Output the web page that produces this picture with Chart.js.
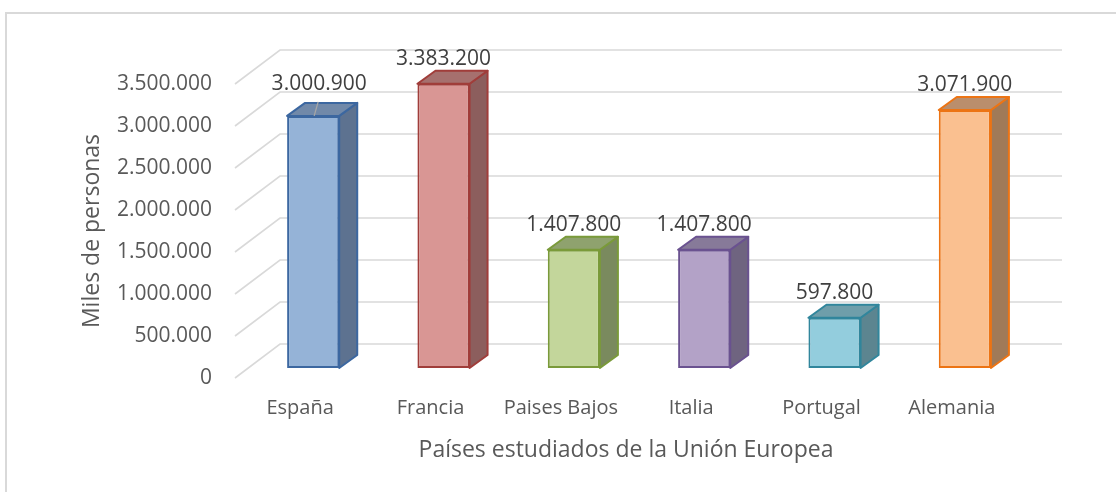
<!DOCTYPE html>
<html>
<head>
<meta charset="utf-8">
<script src="https://cdn.jsdelivr.net/npm/chart.js@4/dist/chart.umd.min.js"></script>
<style>
  html, body { margin: 0; padding: 0; background: #ffffff; }
  #wrap { width: 1116px; height: 492px; }
</style>
</head>
<body>
<div id="wrap"><canvas id="c" width="1116" height="492"></canvas></div>
<script>
// ---- data ----
const categories = ['España', 'Francia', 'Paises Bajos', 'Italia', 'Portugal', 'Alemania'];
const values = [3000900, 3383200, 1407800, 1407800, 597800, 3071900];
const yTickValues = [0, 500000, 1000000, 1500000, 2000000, 2500000, 3000000, 3500000];
const yTickLabels = ['0', '500.000', '1.000.000', '1.500.000', '2.000.000', '2.500.000', '3.000.000', '3.500.000'];
const yTitle = 'Miles de personas';
const xTitle = 'Países estudiados de la Unión Europea';

// ---- styles ----
const frontColors  = ['#95B3D7', '#D99694', '#C3D69B', '#B3A2C7', '#93CDDD', '#FAC090'];
const sideColors   = ['#5D7290', '#8C5E5D', '#7A8A5E', '#6F6480', '#5C8590', '#A07A58'];
const topColors    = ['#7189A9', '#A6706E', '#8FA26E', '#877A99', '#6F9EAA', '#BA8E6C'];
const borderColors = ['#3C67A0', '#A03D3A', '#7A9A3A', '#6A5290', '#31869C', '#EC7414'];
const textColor = '#595959';
const gridColor = '#D9D9D9';
const FONT = '"Open Sans", "DejaVu Sans", sans-serif';

function fmt(v) {
  return String(Math.round(v)).replace(/\B(?=(\d{3})+(?!\d))/g, '.');
}

const WALL = { dx: 45, dy: -34 };   // depth of the floor / side wall
const SHIFT = { dx: 13, dy: -10 };  // bar front face offset into depth
const DEPTH = { dx: 18, dy: -13 };  // bar depth

const threeD = {
  id: 'threeD',
  beforeDraw(chart) {
    const ctx = chart.ctx;
    ctx.save();
    ctx.strokeStyle = gridColor;
    ctx.lineWidth = 2;
    ctx.beginPath();
    ctx.moveTo(6, 492);
    ctx.lineTo(6, 13);
    ctx.lineTo(1116, 13);
    ctx.stroke();
    ctx.restore();
  },
  beforeDatasetsDraw(chart) {
    const ctx = chart.ctx;
    const ys = chart.scales.y;
    const area = chart.chartArea;
    ctx.save();
    ctx.strokeStyle = gridColor;
    ctx.lineWidth = 1.6;
    yTickValues.forEach(v => {
      const y = ys.getPixelForValue(v);
      ctx.beginPath();
      ctx.moveTo(area.left, y);
      ctx.lineTo(area.left + WALL.dx, y + WALL.dy);
      ctx.lineTo(area.right + WALL.dx, y + WALL.dy);
      ctx.stroke();
    });
    // sides and tops of the bars
    const meta = chart.getDatasetMeta(0);
    ctx.lineWidth = 2;
    ctx.lineJoin = 'round';
    meta.data.forEach((bar, i) => {
      const p = bar.getProps(['x', 'y', 'base', 'width'], true);
      const x1 = p.x - p.width / 2 + SHIFT.dx;
      const x2 = p.x + p.width / 2 + SHIFT.dx;
      const yt = p.y + SHIFT.dy;
      const yb = p.base + SHIFT.dy;
      ctx.strokeStyle = borderColors[i];
      // side
      ctx.fillStyle = sideColors[i];
      ctx.beginPath();
      ctx.moveTo(x2, yt);
      ctx.lineTo(x2 + DEPTH.dx, yt + DEPTH.dy);
      ctx.lineTo(x2 + DEPTH.dx, yb + DEPTH.dy);
      ctx.lineTo(x2, yb);
      ctx.closePath();
      ctx.fill();
      ctx.stroke();
      // top
      ctx.fillStyle = topColors[i];
      ctx.beginPath();
      ctx.moveTo(x1, yt);
      ctx.lineTo(x1 + DEPTH.dx, yt + DEPTH.dy);
      ctx.lineTo(x2 + DEPTH.dx, yt + DEPTH.dy);
      ctx.lineTo(x2, yt);
      ctx.closePath();
      ctx.fill();
      ctx.stroke();
    });
    ctx.restore();
    ctx.save();
    ctx.translate(SHIFT.dx, SHIFT.dy);
  },
  afterDatasetsDraw(chart) {
    const ctx = chart.ctx;
    ctx.restore();
    const meta = chart.getDatasetMeta(0);
    ctx.save();
    ctx.font = '21px ' + FONT;
    ctx.fillStyle = '#404040';
    ctx.textAlign = 'center';
    ctx.textBaseline = 'middle';
    meta.data.forEach((bar, i) => {
      const p = bar.getProps(['x', 'y'], true);
      let cx = p.x + SHIFT.dx;
      const yt = p.y + SHIFT.dy;
      let ly = yt - 25;
      if (i === 0) {
        ly = yt - 32;
        ctx.save();
        ctx.strokeStyle = '#A6A6A6';
        ctx.lineWidth = 1.3;
        ctx.beginPath();
        ctx.moveTo(cx + 5, ly + 18);
        ctx.lineTo(cx + 1, yt);
        ctx.stroke();
        ctx.restore();
        cx += 6;
      }
      ctx.fillText(fmt(values[i]), cx, ly);
    });
    ctx.restore();
  }
};

new Chart(document.getElementById('c'), {
  type: 'bar',
  data: {
    labels: categories,
    datasets: [{
      data: values,
      backgroundColor: frontColors,
      borderColor: borderColors,
      borderWidth: 2,
      borderSkipped: false,
      categoryPercentage: 1,
      barPercentage: 0.4,
      clip: false
    }]
  },
  options: {
    responsive: false,
    animation: false,
    devicePixelRatio: 1,
    layout: { padding: { left: 0, top: 84, right: 99, bottom: 0 } },
    plugins: { legend: { display: false }, tooltip: { enabled: false } },
    scales: {
      x: {
        grid: { display: false, drawTicks: false },
        border: { display: false },
        ticks: { color: textColor, font: { family: FONT, size: 20 }, padding: 18, maxRotation: 0 },
        title: { display: true, text: xTitle, color: textColor, font: { family: FONT, size: 23 }, padding: { top: 0, bottom: 28 } },
        afterFit(s) { s.height = 114; }
      },
      y: {
        min: 0, max: 3500000,
        grid: { display: false, drawTicks: false },
        border: { display: false },
        afterBuildTicks(s) { s.ticks = yTickValues.map(v => ({ value: v })); },
        ticks: {
          color: textColor, font: { family: FONT, size: 21 }, padding: 23,
          callback: (v, i) => yTickLabels[i]
        },
        title: { display: true, text: yTitle, color: textColor, font: { family: FONT, size: 23 }, padding: { top: 79, bottom: 0 } },
        afterFit(s) { s.width = 235; }
      }
    }
  },
  plugins: [threeD]
});
</script>
</body>
</html>
